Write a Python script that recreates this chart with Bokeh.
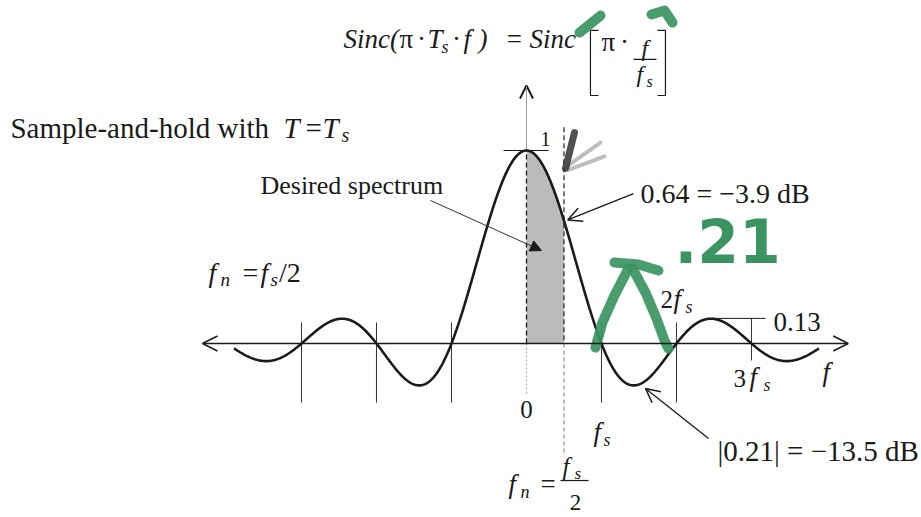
import numpy as np
from bokeh.plotting import figure
from bokeh.models import Arrow, OpenHead, NormalHead
from bokeh.core.properties import value
from bokeh.embed import file_html
from bokeh.resources import INLINE

# ---- data (frequency in multiples of fs, amplitude of the hold response) ----
f_span = (-3.9, 3.9)                 # extent of the drawn response
null_freqs = [-3, -2, -1, 1, 2, 3]   # zeros of Sinc(pi f / fs)
nyquist = 0.5                        # fn = fs / 2
gain_at_nyquist = 0.64               # 0.64 = -3.9 dB
first_sidelobe = 0.21                # |0.21| = -13.5 dB
second_sidelobe = 0.13
second_sidelobe_freq = 2.46

f = np.linspace(f_span[0], f_span[1], 1200)
response = np.sinc(f)                # sin(pi f/fs) / (pi f/fs)
f_band = np.linspace(0, nyquist, 200)
response_band = np.sinc(f_band)

INK = "#1a1a1a"
SERIF = value("Liberation Serif")
GREEN = "#3a9460"
PX_PER_UNIT = 193.0   # vertical pixels per unit amplitude

p = figure(width=921, height=517, x_range=(-7.013, 5.267), y_range=(-0.9016, 1.7772),
           output_backend="svg", toolbar_location=None, min_border=0,
           x_axis_type=None, y_axis_type=None)
p.grid.visible = False
p.outline_line_color = None
p.background_fill_color = "white"
p.border_fill_color = "white"


def txt(x, y, s, size, style="normal", align="left", color=INK, font=SERIF):
    """Place text with its baseline at y (data units)."""
    y_mid = y + 0.3 * size / PX_PER_UNIT
    p.text(x=[x], y=[y_mid], text=[s], text_font=font, text_font_size=f"{size}px",
           text_font_style=style, text_align=align, text_baseline="middle",
           text_color=color)


# desired spectrum: shaded band from 0 to fn under the response
p.varea(x=f_band, y1=np.zeros_like(f_band), y2=response_band, fill_color="#bdbaba")

# axes with open arrow heads
p.add_layout(Arrow(start=OpenHead(size=15, line_width=1.5, line_color=INK),
                   end=OpenHead(size=15, line_width=1.5, line_color=INK),
                   x_start=-4.32, y_start=0, x_end=4.29, y_end=0,
                   line_width=1.3, line_color=INK))
p.segment(x0=[0], y0=[1.0], x1=[0], y1=[1.32], line_color="#9a9a9a", line_width=1)
p.add_layout(Arrow(end=OpenHead(size=13, line_width=2, line_color=INK),
                   x_start=0, y_start=1.3, x_end=0, y_end=1.337,
                   line_width=1, line_color="#9a9a9a"))
p.segment(x0=[0], y0=[0], x1=[0], y1=[1.0], line_color=INK, line_width=1.3, line_dash="5 3")
p.segment(x0=[0], y0=[0], x1=[0], y1=[-0.27], line_color="#aaaaaa", line_width=1.2, line_dash="2 2")

# fn = fs/2 marker
p.segment(x0=[nyquist], y0=[1.12], x1=[nyquist], y1=[0], line_color="#333333",
          line_width=1.3, line_dash="5 3")
p.segment(x0=[nyquist], y0=[0], x1=[nyquist], y1=[-0.565], line_color="#999999",
          line_width=1.3, line_dash="4 3")

# vertical tick marks at the nulls
p.segment(x0=null_freqs[:-1], y0=[0.109] * 5, x1=null_freqs[:-1], y1=[-0.306] * 5,
          line_color="#333333", line_width=1)
p.segment(x0=[null_freqs[-1]], y0=[second_sidelobe], x1=[null_freqs[-1]], y1=[-0.088],
          line_color="#333333", line_width=1)

# level marks for the peak and the second side lobe
p.segment(x0=[-0.307], y0=[1.0], x1=[0.293], y1=[1.0], line_color=INK, line_width=1)
p.segment(x0=[second_sidelobe_freq], y0=[second_sidelobe], x1=[3.187], y1=[second_sidelobe],
          line_color=INK, line_width=1)

# the hold response itself
p.line(f, response, line_color=INK, line_width=2.6)

# ---- labels ----
# title formula
TY = 1.534
txt(-2.44, TY, "Sinc(", 27, "italic")
txt(-1.693, TY, "π", 27)
txt(-1.4, TY, "·", 27, align="center")
txt(-1.32, TY, "T", 27, "italic")
txt(-1.133, TY - 0.026, "s", 18, "italic")
txt(-0.933, TY, "·", 27, align="center")
txt(-0.84, TY, "f", 27, "italic")
txt(-0.64, TY, ")", 27, "italic")
txt(-0.16, TY, "=", 27, align="center")
txt(0.04, TY, "Sinc", 27, "italic")
p.multi_line(xs=[[0.96, 0.853, 0.853, 0.96], [1.747, 1.853, 1.853, 1.747]],
             ys=[[1.622, 1.622, 1.285, 1.285], [1.622, 1.622, 1.285, 1.285]],
             line_color=INK, line_width=1.2)
txt(1.0, 1.518, "π", 27)
txt(1.307, 1.518, "·", 27, align="center")
txt(1.533, 1.492, "f", 24, "italic")
p.segment(x0=[1.427], y0=[1.472], x1=[1.733], y1=[1.472], line_color=INK, line_width=1.2)
txt(1.467, 1.358, "f", 24, "italic")
txt(1.6, 1.332, "s", 16, "italic")

# left-hand captions
txt(-6.88, 1.073, "Sample-and-hold with", 29)
txt(-3.24, 1.073, "T", 29, "italic")
txt(-2.947, 1.073, "=", 29)
txt(-2.72, 1.073, "T", 29, "italic")
txt(-2.467, 1.047, "s", 20, "italic")
txt(-3.547, 0.777, "Desired spectrum", 26)
txt(-4.24, 0.326, "f", 28, "italic")
txt(-4.08, 0.301, "n", 19, "italic")
txt(-3.787, 0.326, "=", 28)
txt(-3.547, 0.326, "f", 28, "italic")
txt(-3.413, 0.301, "s", 19, "italic")
txt(-3.3, 0.326, "/2", 28)

p.add_layout(Arrow(end=NormalHead(size=11, fill_color=INK, line_color=INK),
                   x_start=-1.28, y_start=0.741, x_end=0.2, y_end=0.482,
                   line_width=1, line_color="#333333"))

# peak and gain annotations
txt(0.187, 1.026, "1", 20)
p.add_layout(Arrow(end=OpenHead(size=14, line_width=1.5, line_color=INK),
                   x_start=1.427, y_start=0.777, x_end=0.55, y_end=gain_at_nyquist,
                   line_width=1.3, line_color=INK))
txt(1.52, 0.735, "0.64 = −3.9 dB", 28)

p.add_layout(Arrow(end=OpenHead(size=14, line_width=1.5, line_color=INK),
                   x_start=2.427, y_start=-0.492, x_end=1.587, y_end=-0.233,
                   line_width=1.3, line_color=INK))
txt(2.547, -0.601, "|0.21| = −13.5 dB", 29)

txt(3.293, 0.067, "0.13", 27)

# frequency labels
txt(0, -0.383, "0", 25, align="center")
txt(0.893, -0.503, "f", 27, "italic")
txt(1.027, -0.528, "s", 18, "italic")
txt(1.787, 0.187, "2", 25)
txt(1.96, 0.187, "f", 27, "italic")
txt(2.12, 0.161, "s", 18, "italic")
txt(2.76, -0.218, "3", 25)
txt(2.973, -0.218, "f", 27, "italic")
txt(3.16, -0.244, "s", 18, "italic")
txt(3.947, -0.192, "f", 27, "italic")

txt(-0.24, -0.772, "f", 27, "italic")
txt(-0.08, -0.798, "n", 18, "italic")
txt(0.187, -0.772, "=", 27)
txt(0.48, -0.674, "f", 25, "italic")
txt(0.64, -0.699, "s", 17, "italic")
p.segment(x0=[0.453], y0=[-0.71], x1=[0.827], y1=[-0.71], line_color=INK, line_width=1.2)
txt(0.653, -0.86, "2", 23, align="center")

# handwritten marks
p.multi_line(xs=[[0.92, 1.013, 1.173, 1.36],
                 [1.173, 1.493, 1.76],
                 [1.413, 1.587, 1.733, 1.84, 1.893],
                 [0.707, 0.987],
                 [1.667, 1.84, 1.947]],
             ys=[[-0.021, 0.109, 0.249, 0.389],
                 [0.42, 0.409, 0.378],
                 [0.389, 0.264, 0.13, 0.016, -0.026],
                 [1.611, 1.699],
                 [1.705, 1.725, 1.663]],
             line_color=GREEN, line_width=10, line_alpha=0.92, line_cap="round",
             line_join="round")
txt(1.973, 0.44, ".21", 60, "bold", color=GREEN, font=value("DejaVu Sans"))
p.multi_line(xs=[[0.533, 0.987], [0.56, 1.04]], ys=[[0.917, 1.041], [0.9, 0.969]],
             line_color="#888888", line_width=4, line_alpha=0.55, line_cap="round")
p.segment(x0=[0.52], y0=[0.907], x1=[0.64], y1=[1.093], line_color="#333333",
          line_width=7, line_alpha=0.85, line_cap="round")

open("out.html", "w").write(file_html(p, INLINE))
